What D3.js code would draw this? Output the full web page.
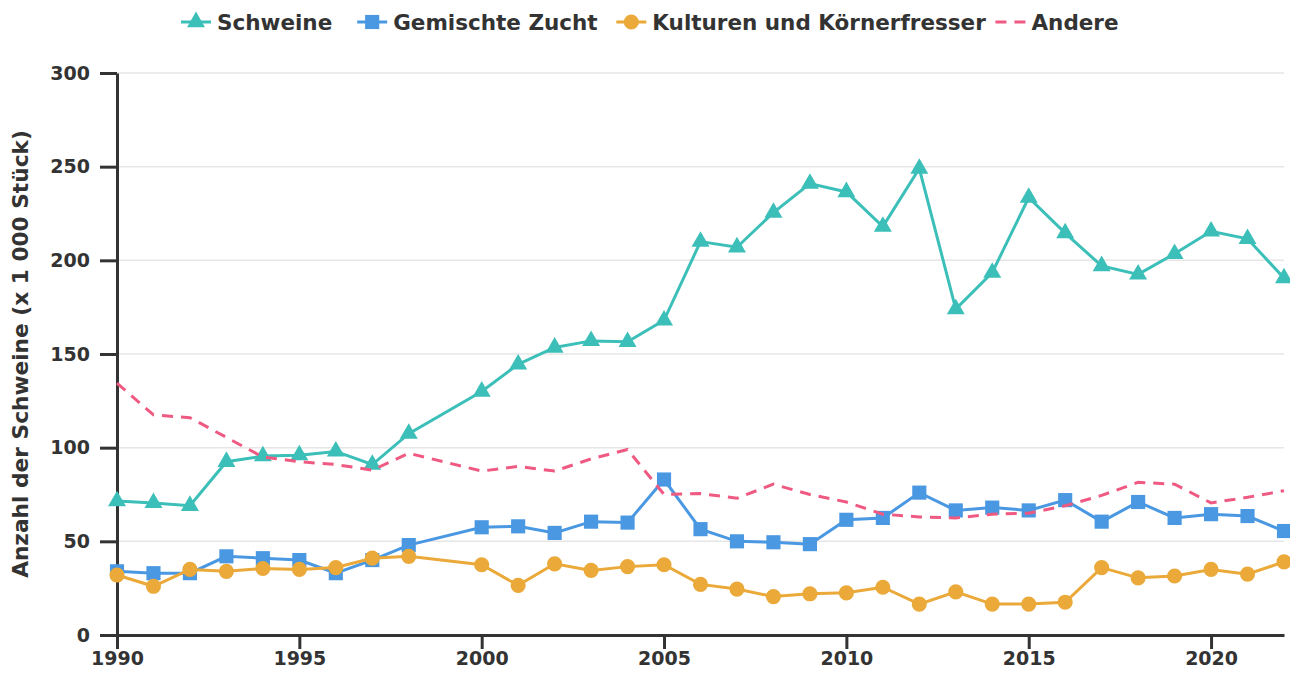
<!DOCTYPE html>
<html><head><meta charset="utf-8">
<script src="https://cdn.jsdelivr.net/npm/d3@7"></script>
<style>
html,body{margin:0;padding:0;background:#fff;}
text{font-family:"DejaVu Sans",sans-serif;font-weight:bold;fill:#333;}
</style></head>
<body><svg id="c" width="1290" height="673"></svg>
<script>
const years = [1990,1991,1992,1993,1994,1995,1996,1997,1998,2000,2001,2002,2003,2004,2005,2006,2007,2008,2009,2010,2011,2012,2013,2014,2015,2016,2017,2018,2019,2020,2021,2022];
const schweine = [71.5,70.5,69,92.5,95.5,96,98,91,107.5,130,144.5,153.5,157,156.5,168,210,207,225.5,241,236.5,218,249,174,193.5,233.5,214.5,197,192.5,203.5,215.5,211.5,190.5];
const gemischt = [34,33,33,42,41,40,33,40,48,57.5,58,54.5,60.5,60,83,56.5,50,49.5,48.5,61.5,62.5,76,66.5,68,66.5,72,60.5,71,62.5,64.5,63.5,55.5];
const kulturen = [32,26,35,34,35.5,35,36,41,42,37.5,26.5,38,34.5,36.5,37.5,27,24.5,20.5,22,22.5,25.5,16.5,23,16.5,16.5,17.5,36,30.5,31.5,35,32.5,39];
const andere = [134.5,117.5,116,105.5,95,92.5,91,88,97,87.5,90,87.5,94,99,75,75.5,73,80.5,75,71,64.5,63,62.5,64.5,65,69,74.5,81.5,80.5,70.5,73.5,77];
const seriesNames = ["Schweine","Gemischte Zucht","Kulturen und Körnerfresser","Andere"];
const colors = ["#3cbfb9","#4a98e2","#eaa938","#ef5a82"];
const markers = ["triangle","square","circle",null];
const yTicks = [0,50,100,150,200,250,300];
const xTicks = [1990,1995,2000,2005,2010,2015,2020];
const yLabel = "Anzahl der Schweine (x 1 000 Stück)";

const svg = d3.select("#c");
const m = {l:117, r:6, t:73, b:38};
const W = 1290, H = 673;
const x = d3.scaleLinear().domain([1990,2022]).range([m.l, W-m.r]);
const y = d3.scaleLinear().domain([0,300]).range([H-m.b, m.t]);

// grid
svg.append("g").selectAll("line").data(yTicks.slice(1)).join("line")
  .attr("x1", m.l).attr("x2", W-m.r).attr("y1", d=>y(d)).attr("y2", d=>y(d))
  .attr("stroke", "#e6e6e6").attr("stroke-width", 1.5);

// axes
const ya = svg.append("g").attr("transform", `translate(${m.l},0)`)
  .call(d3.axisLeft(y).tickValues(yTicks).tickSize(17).tickPadding(10).tickSizeOuter(0));
const xa = svg.append("g").attr("transform", `translate(0,${H-m.b})`)
  .call(d3.axisBottom(x).tickValues(xTicks).tickFormat(d3.format("d")).tickSize(14).tickPadding(3).tickSizeOuter(0));
[ya, xa].forEach(a => {
  a.selectAll("path,line").attr("stroke", "#333").attr("stroke-width", 3);
  a.selectAll("text").style("font-size", "19px").attr("fill", "#333");
});

svg.append("text").attr("transform", `translate(28,${(m.t + H - m.b)/2}) rotate(-90)`)
  .attr("text-anchor", "middle").style("font-size", "21.7px").text(yLabel);

const allSeries = [schweine, gemischt, kulturen, andere];
const line = d3.line().x((d,i)=>x(years[i])).y(d=>y(d));
const sym = {triangle:d3.symbolTriangle, square:d3.symbolSquare, circle:d3.symbolCircle};
const symSize = {triangle:140, square:200, circle:180};

allSeries.forEach((vals, k) => {
  const g = svg.append("g");
  g.append("path").datum(vals).attr("d", line).attr("fill","none")
    .attr("stroke", colors[k]).attr("stroke-width", 3)
    .attr("stroke-dasharray", k===3 ? "11,8" : null);
  if (markers[k]) {
    g.selectAll("path.m").data(vals).join("path").attr("class","m")
      .attr("transform", (d,i)=>`translate(${x(years[i])},${y(d)})`)
      .attr("d", d3.symbol().type(sym[markers[k]]).size(symSize[markers[k]]))
      .attr("fill", colors[k]);
  }
});

// legend
const lg = svg.append("g");
let cx = 181;
seriesNames.forEach((n,k) => {
  const it = lg.append("g").attr("transform", `translate(${cx},22)`);
  it.append("line").attr("x1",0).attr("x2",30).attr("y1",0).attr("y2",0)
    .attr("stroke", colors[k]).attr("stroke-width",3)
    .attr("stroke-dasharray", k===3 ? "11,8" : null);
  if (markers[k]) it.append("path").attr("transform","translate(15,0)")
    .attr("d", d3.symbol().type(sym[markers[k]]).size(symSize[markers[k]])).attr("fill", colors[k]);
  const t = it.append("text").attr("x",36).attr("y",8).style("font-size","21.5px").text(n);
  const tw = t.node().getComputedTextLength();
  cx += 36 + tw*0.93 + 33;
});
</script></body></html>
